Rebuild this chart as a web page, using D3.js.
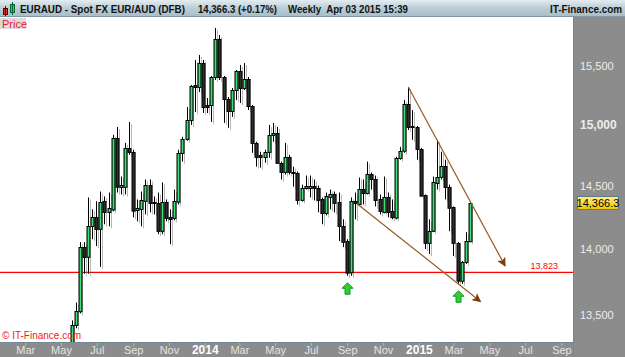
<!DOCTYPE html>
<html lang="en">
<head>
<meta charset="utf-8">
<title>EURAUD Weekly</title>
<script src="https://cdn.jsdelivr.net/npm/d3@7"></script>
<style>
  body { margin: 0; background: #fff; }
  svg { display: block; font-family: "Liberation Sans", Arial, sans-serif; }
</style>
</head>
<body>
<svg width="625" height="357"></svg>
<script>

// weekly candles, first week starting Sun May 19 2013
var firstWeek = new Date(2013, 4, 19),
    lastWeek = new Date(2015, 2, 29);

var opens = [13290,13423,13527,14018,13941,14181,14252,14158,14378,14291,
  14315,14894,14497,14497,14812,14780,14307,14315,14386,14513,
  14370,14362,14142,14370,14252,14244,14378,14771,14886,15043,
  15338,15321,15526,15168,15168,15406,15734,15406,15219,15118,
  15295,15457,15312,15389,15160,14853,14755,14739,14780,14919,
  14935,14690,14618,14739,14618,14610,14394,14489,14489,14505,
  14489,14394,14283,14418,14441,14370,14181,14065,13820,14378,
  14362,14481,14449,14602,14562,14394,14291,14410,14299,14252,
  14731,14788,15176,14993,14985,14804,14426,14049,14142,14530,
  14578,14666,14497,14331,14049,13759,13903,14065];

var highs = [13460,13593,14057,14057,14410,14315,14378,14457,14418,14449,
  14919,14985,14578,14853,15026,14796,14394,14457,14554,14554,
  14418,14449,14530,14394,14315,14473,14796,14903,15151,15338,
  15552,15595,15552,15227,15414,15830,15769,15414,15236,15312,
  15466,15509,15526,15406,15168,14862,14780,14796,15001,15018,
  14985,14699,14853,14755,14658,14618,14513,14586,14586,14554,
  14505,14410,14449,14473,14457,14449,14236,14080,14410,14449,
  14570,14554,14699,14610,14586,14434,14578,14449,14394,14739,
  14820,15210,15321,15126,14993,14812,14434,14236,14578,14878,
  14780,14715,14513,14338,14057,13911,14135,14370];

var lows = [13230,13401,13512,13812,13812,14080,14026,13865,14197,14181,
  14299,14449,14434,14434,14755,14252,14220,14181,14275,14291,
  14275,14119,14119,14220,14041,14228,14354,14699,14870,15001,
  15109,15278,15101,15101,15026,15380,15380,15018,14977,15068,
  15210,15185,15295,15126,14771,14658,14650,14690,14731,14862,
  14682,14554,14594,14594,14497,14354,14378,14473,14410,14386,
  14291,14197,14267,14315,14291,14065,14018,13797,13797,14236,
  14346,14354,14434,14473,14338,14275,14283,14252,14236,14236,
  14715,14771,14960,14878,14715,14418,14003,13964,14135,14473,
  14554,14394,14142,13949,13736,13736,13888,14057];

var closes = [13423,13527,14018,13941,14181,14252,14158,14370,14291,14323,
  14894,14497,14513,14812,14780,14307,14323,14386,14513,14370,
  14362,14142,14370,14244,14236,14378,14771,14886,15043,15329,
  15321,15526,15151,15151,15406,15734,15406,15219,15118,15295,
  15457,15312,15389,15160,14853,14739,14739,14780,14919,14935,
  14690,14618,14739,14618,14610,14394,14489,14505,14505,14489,
  14394,14283,14418,14441,14370,14181,14057,13820,14378,14362,
  14481,14449,14602,14562,14394,14299,14410,14291,14252,14731,
  14788,15176,14985,14985,14804,14426,14049,14142,14530,14578,
  14666,14497,14331,14049,13759,13903,14065,14366.3];

var priceTicks = [13500, 14000, 14500, 15000, 15500];
var monthTicks = [new Date(2013,2,1), new Date(2013,4,1), new Date(2013,6,1), new Date(2013,8,1),
  new Date(2013,10,1), new Date(2014,0,1), new Date(2014,2,1), new Date(2014,4,1),
  new Date(2014,6,1), new Date(2014,8,1), new Date(2014,10,1), new Date(2015,0,1),
  new Date(2015,2,1), new Date(2015,4,1), new Date(2015,6,1), new Date(2015,8,1)];

var supportLevel = 13823;
var lastPrice = 14366.3;

// trend lines drawn on the chart
var upperTrend = [{date: new Date(2014,11,14), price: 15321}, {date: new Date(2015,4,28), price: 13873}];
var lowerTrend = [{date: new Date(2014,8,17), price: 14362}, {date: new Date(2015,3,16), price: 13601}];
// weeks marked with green arrows under the low
var arrowWeeks = [new Date(2014,7,31), new Date(2015,2,8)];

var weeks = d3.timeSunday.range(firstWeek, d3.timeDay.offset(lastWeek, 1));
var candles = weeks.map(function(d, i) {
  return {date: d, open: opens[i], high: highs[i], low: lows[i], close: closes[i]};
});

var svg = d3.select("svg"),
    W = +svg.attr("width"),
    H = +svg.attr("height"),
    plot = {left: 0, top: 17, right: 573, bottom: 342};

var xScale = d3.scaleTime()
    .domain([new Date(2013,0,17), new Date(2015,8,19)])
    .range([0, 572]);
var yScale = d3.scaleLog()
    .domain([13500, 15500])
    .range([315, 66]);

var defs = svg.append("defs");

var hg = defs.append("linearGradient").attr("id", "headGrad")
    .attr("x1", 0).attr("y1", 0).attr("x2", 0).attr("y2", 1);
hg.append("stop").attr("offset", "0%").attr("stop-color", "#e4edf1");
hg.append("stop").attr("offset", "45%").attr("stop-color", "#bccfd8");
hg.append("stop").attr("offset", "100%").attr("stop-color", "#a6bcc7");

var gg = defs.append("linearGradient").attr("id", "greenGrad")
    .attr("x1", 0).attr("y1", 0).attr("x2", 1).attr("y2", 0);
gg.append("stop").attr("offset", "0%").attr("stop-color", "#1fa84a");
gg.append("stop").attr("offset", "50%").attr("stop-color", "#3ee07a");
gg.append("stop").attr("offset", "100%").attr("stop-color", "#1fa84a");

var yg = defs.append("linearGradient").attr("id", "yellowGrad")
    .attr("x1", 0).attr("y1", 0).attr("x2", 0).attr("y2", 1);
yg.append("stop").attr("offset", "0%").attr("stop-color", "#fff080");
yg.append("stop").attr("offset", "100%").attr("stop-color", "#f5c400");

defs.append("clipPath").attr("id", "plotClip")
  .append("rect")
    .attr("x", plot.left)
    .attr("y", plot.top)
    .attr("width", plot.right - plot.left)
    .attr("height", plot.bottom - plot.top);

defs.append("marker")
    .attr("id", "brownHead")
    .attr("viewBox", "0 0 10 10")
    .attr("refX", 9).attr("refY", 5)
    .attr("markerWidth", 9).attr("markerHeight", 9)
    .attr("markerUnits", "userSpaceOnUse")
    .attr("orient", "auto")
  .append("path")
    .attr("d", "M0,0 L10,5 L0,10 L2.5,5 Z")
    .attr("fill", "#7a3d0c");

// background panels
svg.append("rect")
    .attr("x", 0).attr("y", 0).attr("width", W).attr("height", H)
    .attr("fill", "#8c8c8c");
svg.append("rect")
    .attr("x", plot.left).attr("y", plot.top)
    .attr("width", plot.right - plot.left).attr("height", plot.bottom - plot.top)
    .attr("fill", "#ffffff");
svg.append("line")
    .attr("x1", plot.right + 0.5).attr("x2", plot.right + 0.5)
    .attr("y1", plot.top).attr("y2", H)
    .attr("stroke", "#6f8895");
svg.append("line")
    .attr("x1", 0).attr("x2", plot.right)
    .attr("y1", plot.bottom + 0.5).attr("y2", plot.bottom + 0.5)
    .attr("stroke", "#6f8895");

// header bar
svg.append("rect")
    .attr("x", 0).attr("y", 0).attr("width", W).attr("height", plot.top)
    .attr("fill", "url(#headGrad)");
svg.append("line")
    .attr("x1", 0).attr("x2", W).attr("y1", plot.top - 0.5).attr("y2", plot.top - 0.5)
    .attr("stroke", "#7f99a6");

// tiny candle icon
svg.append("rect").attr("x", 3.5).attr("y", 8.5).attr("width", 4).attr("height", 6)
    .attr("fill", "#e03030").attr("stroke", "#600");
svg.append("line").attr("x1", 5.5).attr("x2", 5.5).attr("y1", 6).attr("y2", 16).attr("stroke", "#600");
svg.append("rect").attr("x", 10.5).attr("y", 4.5).attr("width", 4).attr("height", 8)
    .attr("fill", "#30d050").attr("stroke", "#063");
svg.append("line").attr("x1", 12.5).attr("x2", 12.5).attr("y1", 2).attr("y2", 15).attr("stroke", "#063");

var head = svg.append("g")
    .attr("font-size", "10.5px")
    .attr("font-weight", "bold")
    .attr("fill", "#111");
head.append("text").attr("x", 20).attr("y", 12.5)
    .attr("textLength", 165).attr("lengthAdjust", "spacingAndGlyphs")
    .text("EURAUD - Spot FX EUR/AUD (DFB)");
head.append("text").attr("x", 198).attr("y", 12.5)
    .attr("textLength", 79).attr("lengthAdjust", "spacingAndGlyphs")
    .text("14,366.3 (+0.17%)");
head.append("text").attr("x", 288).attr("y", 12.5).attr("xml:space", "preserve")
    .attr("textLength", 120).attr("lengthAdjust", "spacingAndGlyphs")
    .text("Weekly  Apr 03 2015 15:39");
head.append("text").attr("x", 550).attr("y", 12.5)
    .attr("textLength", 72).attr("lengthAdjust", "spacingAndGlyphs")
    .text("IT-Finance.com");

// "Price" tag
svg.append("rect")
    .attr("x", 0).attr("y", 18).attr("width", 26).attr("height", 11)
    .attr("fill", "#dcdcdc");
svg.append("text")
    .attr("x", 2).attr("y", 27.5)
    .attr("font-size", "11px")
    .attr("fill", "#e8202a")
    .text("Price");

var g = svg.append("g").attr("clip-path", "url(#plotClip)");

// support line
g.append("line")
    .attr("x1", plot.left).attr("x2", plot.right)
    .attr("y1", yScale(supportLevel)).attr("y2", yScale(supportLevel))
    .attr("stroke", "#ff0000")
    .attr("stroke-width", 1.2);
g.append("text")
    .attr("x", 558).attr("y", yScale(supportLevel) - 3)
    .attr("text-anchor", "end")
    .attr("font-size", "9px")
    .attr("fill", "#ff0000")
    .text(d3.format(",")(supportLevel));

// candle shadows
var shadow = g.append("g").attr("opacity", 0.45);
shadow.selectAll("line")
  .data(candles)
  .enter().append("line")
    .attr("x1", function(d) { return Math.round(xScale(d.date)) + 2.5; })
    .attr("x2", function(d) { return Math.round(xScale(d.date)) + 2.5; })
    .attr("y1", function(d) { return yScale(d.high) + 2; })
    .attr("y2", function(d) { return yScale(d.low) + 2; })
    .attr("stroke", "#666");

// wicks
g.selectAll(".wick")
  .data(candles)
  .enter().append("line")
    .attr("class", "wick")
    .attr("x1", function(d) { return Math.round(xScale(d.date)) + 0.5; })
    .attr("x2", function(d) { return Math.round(xScale(d.date)) + 0.5; })
    .attr("y1", function(d) { return yScale(d.high); })
    .attr("y2", function(d) { return yScale(d.low); })
    .attr("stroke", "#000");

// bodies
g.selectAll(".body")
  .data(candles)
  .enter().append("rect")
    .attr("class", "body")
    .attr("x", function(d) { return Math.round(xScale(d.date)) - 1; })
    .attr("y", function(d) { return Math.round(yScale(Math.max(d.open, d.close))) + 0.5; })
    .attr("width", 3)
    .attr("height", function(d) {
      return Math.max(1, Math.abs(yScale(d.open) - yScale(d.close)));
    })
    .attr("fill", function(d) { return d.close >= d.open ? "url(#greenGrad)" : "#2e2e2e"; })
    .attr("stroke", "#000")
    .attr("stroke-width", 1);

// trend lines
var trendLine = d3.line()
    .x(function(d) { return xScale(d.date); })
    .y(function(d) { return yScale(d.price); });

[upperTrend, lowerTrend].forEach(function(t) {
  g.append("path")
      .attr("d", trendLine(t))
      .attr("fill", "none")
      .attr("stroke", "#9a5a22")
      .attr("stroke-width", 1.2)
      .attr("marker-end", "url(#brownHead)");
});

// green up arrows under the lows
var lowByWeek = {};
candles.forEach(function(d) { lowByWeek[+d.date] = d.low; });
g.selectAll(".uparrow")
  .data(arrowWeeks)
  .enter().append("path")
    .attr("class", "uparrow")
    .attr("transform", function(d) {
      return "translate(" + (Math.round(xScale(d)) + 0.5) + "," + (yScale(lowByWeek[+d]) + 7) + ")";
    })
    .attr("d", "M0,0 L5.5,5.5 L2.5,5.5 L2.5,11.5 L-2.5,11.5 L-2.5,5.5 L-5.5,5.5 Z")
    .attr("fill", "#33cc33")
    .attr("stroke", "#129a2a")
    .attr("stroke-width", 1);

// watermark
svg.append("text")
    .attr("x", 2).attr("y", 339)
    .attr("font-size", "10px")
    .attr("fill", "#ee2222")
    .text("\u00a9 IT-Finance.com");

// right price axis
var yAxis = svg.append("g")
    .attr("class", "axis y-axis")
    .attr("transform", "translate(" + plot.right + ",0)")
    .call(d3.axisRight(yScale).tickValues(priceTicks).tickFormat(d3.format(",")).tickSize(4).tickPadding(3));
yAxis.select(".domain").remove();
yAxis.selectAll(".tick line").attr("stroke", "#6f8fa0");
yAxis.selectAll(".tick text")
    .attr("font-family", "Liberation Sans, Arial, sans-serif")
    .attr("fill", "#ececec")
    .attr("font-weight", function(d) { return d === 15000 ? "bold" : "normal"; })
    .style("font-size", function(d) { return d === 15000 ? "12px" : "11px"; });

// last price box
svg.append("rect")
    .attr("x", 577.5).attr("y", Math.round(yScale(lastPrice)) - 6.5)
    .attr("width", 41).attr("height", 13)
    .attr("fill", "url(#yellowGrad)")
    .attr("stroke", "#5b7b8c");
svg.append("text")
    .attr("x", 598).attr("y", Math.round(yScale(lastPrice)) + 4)
    .attr("text-anchor", "middle")
    .attr("font-size", "11px")
    .attr("fill", "#000")
    .text(d3.format(",.1f")(lastPrice));

// bottom time axis
var xAxis = svg.append("g")
    .attr("class", "axis x-axis")
    .attr("transform", "translate(0," + (plot.bottom + 1) + ")")
    .call(d3.axisBottom(xScale).tickValues(monthTicks).tickSize(3)
      .tickFormat(function(d) { return d.getMonth() === 0 ? d.getFullYear() : d3.timeFormat("%b")(d); }));
xAxis.select(".domain").remove();
xAxis.selectAll(".tick line").attr("stroke", "#a9bac4");
xAxis.selectAll(".tick text")
    .attr("y", 11)
    .attr("dy", null)
    .attr("font-family", "Liberation Sans, Arial, sans-serif")
    .attr("fill", function(d) { return d.getMonth() === 0 ? "#ffffff" : "#e4e4e4"; })
    .attr("font-weight", function(d) { return d.getMonth() === 0 ? "bold" : "normal"; })
    .style("font-size", function(d) { return d.getMonth() === 0 ? "12px" : "11px"; });

</script>
</body>
</html>
